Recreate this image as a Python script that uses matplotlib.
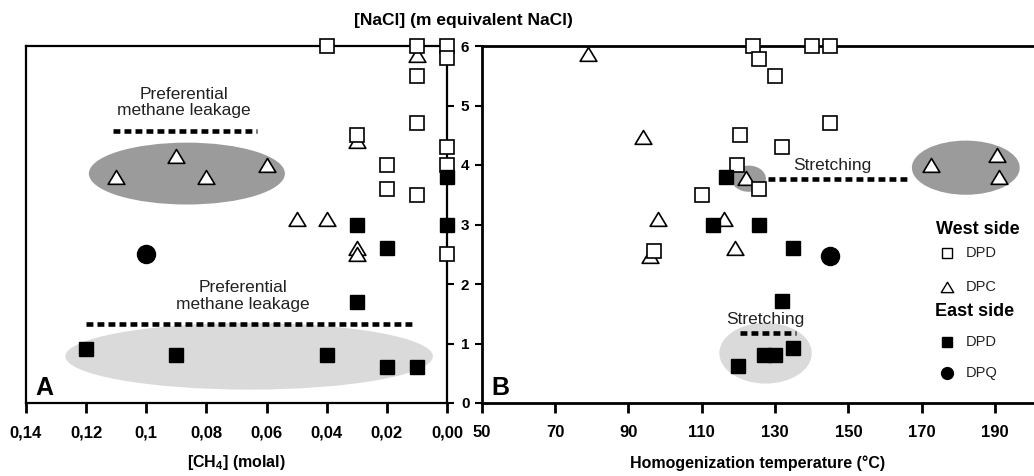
import matplotlib
matplotlib.use('Agg')
import matplotlib.pyplot as plt
from matplotlib.patches import Ellipse
from matplotlib.path import Path

plt.rcParams['font.family'] = ['Liberation Sans', 'DejaVu Sans']
plt.rcParams['mathtext.fontset'] = 'custom'
plt.rcParams['mathtext.rm'] = 'Liberation Sans:bold'
plt.rcParams['mathtext.default'] = 'rm'

# ---------------- Panel A data: [CH4] (molal) vs [NaCl] ----------------
a_west_dpd_x = [0.04, 0.01, 0.00, 0.00, 0.01, 0.01, 0.03, 0.00, 0.02, 0.00, 0.02, 0.01, 0.00]
a_west_dpd_y = [6.0, 6.0, 6.0, 5.8, 5.5, 4.7, 4.5, 4.3, 4.0, 4.0, 3.6, 3.5, 2.5]
a_west_dpc_x = [0.01, 0.03, 0.11, 0.09, 0.08, 0.06, 0.05, 0.04, 0.03, 0.03]
a_west_dpc_y = [5.85, 4.4, 3.8, 4.15, 3.8, 4.0, 3.1, 3.1, 2.6, 2.5]
a_east_dpd_x = [0.00, 0.00, 0.03, 0.02, 0.03, 0.12, 0.09, 0.04, 0.02, 0.01]
a_east_dpd_y = [3.8, 3.0, 3.0, 2.6, 1.7, 0.9, 0.8, 0.8, 0.6, 0.6]
a_east_dpq_x = [0.10]
a_east_dpq_y = [2.5]

# ---------------- Panel B data: Th (°C) vs [NaCl] ----------------
b_west_dpd_x = [124, 125.5, 140, 145, 130, 145, 120.5, 132, 119.5, 125.5, 110, 97]
b_west_dpd_y = [6.0, 5.78, 6.0, 6.0, 5.5, 4.7, 4.5, 4.3, 4.0, 3.6, 3.5, 2.55]
b_west_dpc_x = [79, 94, 98, 96, 116, 119, 122, 172.5, 190.5, 191]
b_west_dpc_y = [5.87, 4.47, 3.1, 2.47, 3.1, 2.6, 3.78, 4.0, 4.17, 3.79]
b_east_dpd_x = [116.5, 113, 125.5, 135, 132, 120, 127, 130, 135]
b_east_dpd_y = [3.8, 3.0, 3.0, 2.6, 1.71, 0.63, 0.81, 0.81, 0.93]
b_east_dpq_x = [145]
b_east_dpq_y = [2.47]

# axes ticks / labels
a_xticks = [0.14, 0.12, 0.10, 0.08, 0.06, 0.04, 0.02, 0.00]
a_xticklabels = ['0,14', '0,12', '0,1', '0,08', '0,06', '0,04', '0,02', '0,00']
b_xticks = [50, 70, 90, 110, 130, 150, 170, 190]
y_ticks = [0, 1, 2, 3, 4, 5, 6]

# annotation shapes: (center_x, center_y, width, height, colour)
a_ellipses = [(0.0865, 3.856, 0.0652, 1.04, '#9b9b9b'),
              (0.0658, 0.785, 0.1222, 1.12, '#dadada')]
b_ellipses = [(122.8, 3.77, 9.4, 0.44, '#9b9b9b'),
              (182.0, 3.955, 29.4, 0.91, '#9b9b9b'),
              (127.4, 0.837, 25.2, 1.02, '#dadada')]
# dotted lines: (x0, x1, y)
a_dots = [(0.1111, 0.0633, 4.57), (0.1202, 0.0111, 1.335)]
b_dots = [(128.2, 166.6, 3.76), (120.5, 135.6, 1.18)]
# texts: (x, y, text)
a_texts = [(0.0874, 5.05, 'Preferential\nmethane leakage'),
           (0.0678, 1.795, 'Preferential\nmethane leakage')]
b_texts = [(145.7, 3.99, 'Stretching'), (127.3, 1.40, 'Stretching')]

W, H = 1034.0, 476.0
fig = plt.figure(figsize=(10.34, 4.76), dpi=100)
axA = fig.add_axes([26 / W, 1 - 403 / H, (447 - 26) / W, (403 - 46) / H])
axB = fig.add_axes([481.7 / W, 1 - 403 / H, (1034 - 481.7) / W, (403 - 46) / H])

tri = Path([(-1, -0.82), (1, -0.82), (0, 0.84), (-1, -0.82)],
           [Path.MOVETO, Path.LINETO, Path.LINETO, Path.CLOSEPOLY])
sq_open = dict(marker='s', ms=9.8, mfc='white', mec='black', mew=1.2, ls='none', clip_on=False)
tri_open = dict(marker=tri, ms=12, mfc='white', mec='black', mew=1.2, ls='none', clip_on=False)
sq_fill = dict(marker='s', ms=10, mfc='black', mec='black', mew=1.0, ls='none', clip_on=False)
circ_fill = dict(marker='o', ms=13, mfc='black', mec='black', mew=1.0, ls='none', clip_on=False)

dot_style = dict(color='black', lw=3.3, ls=(0, (1.5, 0.9)), solid_capstyle='butt',
                 dash_capstyle='butt', zorder=3)
text_style = dict(fontsize=12.5, color='#222222', ha='center', va='center',
                  linespacing=1.15, zorder=3)


def draw(ax, ellipses, dots, texts, wdpd, wdpc, edpd, edpq):
    for cx, cy, w, h, c in ellipses:
        ax.add_patch(Ellipse((cx, cy), w, h, facecolor=c, edgecolor='none', zorder=1))
    for x0, x1, y in dots:
        ax.plot([x0, x1], [y, y], **dot_style)
    for x, y, t in texts:
        ax.text(x, y, t, **text_style)
    ax.plot(*wdpc, zorder=5, **tri_open)
    ax.plot(*wdpd, zorder=6, **sq_open)
    ax.plot(*edpd, zorder=7, **sq_fill)
    ax.plot(*edpq, zorder=7, **circ_fill)


draw(axA, a_ellipses, a_dots, a_texts,
     (a_west_dpd_x, a_west_dpd_y), (a_west_dpc_x, a_west_dpc_y),
     (a_east_dpd_x, a_east_dpd_y), (a_east_dpq_x, a_east_dpq_y))
draw(axB, b_ellipses, b_dots, b_texts,
     (b_west_dpd_x, b_west_dpd_y), (b_west_dpc_x, b_west_dpc_y),
     (b_east_dpd_x, b_east_dpd_y), (b_east_dpq_x, b_east_dpq_y))

tick_font = dict(fontsize=12, fontweight='bold')

# ---- Axis A ----
axA.set_xlim(0.14, 0.0)
axA.set_ylim(0, 6)
axA.set_xticks(a_xticks)
axA.set_xticklabels(a_xticklabels, **tick_font)
axA.set_yticks(y_ticks)
axA.set_yticklabels([str(v) for v in y_ticks], fontsize=11, fontweight='bold')
axA.yaxis.tick_right()
axA.tick_params(axis='y', direction='out', length=5, width=1.5, pad=5,
                left=False, right=True, labelleft=False, labelright=True)
axA.tick_params(axis='x', direction='out', length=7, width=2, pad=9)
for s in axA.spines.values():
    s.set_linewidth(1.6)
axA.set_xlabel('[CH$_4$] (molal)', fontsize=11.5, fontweight='bold')
axA.xaxis.set_label_coords(0.5, (403 - 463) / 357.0)
axA.xaxis.label.set_va('center')
axA.text((35 - 26) / 421.0, (403 - 395) / 357.0, 'A', transform=axA.transAxes,
         fontsize=18, fontweight='bold', ha='left', va='baseline', zorder=8)

# ---- Axis B ----
axB.set_xlim(50, 200.6)
axB.set_ylim(0, 6)
axB.set_xticks(b_xticks)
axB.set_xticklabels([str(v) for v in b_xticks], **tick_font)
axB.set_yticks(y_ticks)
axB.tick_params(axis='y', direction='out', length=5, width=1.5, labelleft=False)
axB.tick_params(axis='x', direction='out', length=7, width=2, pad=9)
axB.spines['right'].set_visible(False)
for k in ['left', 'top', 'bottom']:
    axB.spines[k].set_linewidth(2.0)
axB.set_xlabel('Homogenization temperature (°C)', fontsize=11.5, fontweight='bold')
axB.xaxis.set_label_coords(0.5, (403 - 463) / 357.0)
axB.xaxis.label.set_va('center')
axB.text((491 - 481.7) / 552.3, (403 - 395) / 357.0, 'B', transform=axB.transAxes,
         fontsize=18, fontweight='bold', ha='left', va='baseline', zorder=8)

# ---- Manual legend in B (axes fraction) ----
bx = axB.transAxes
axB.text(0.898, 0.485, 'West side', transform=bx, fontsize=13, fontweight='bold',
         ha='center', va='center')
axB.text(0.893, 0.255, 'East side', transform=bx, fontsize=13, fontweight='bold',
         ha='center', va='center')
leg_rows = [(0.420, 'DPD', dict(marker='s', ms=7, mfc='white', mec='black', mew=1.0)),
            (0.325, 'DPC', dict(marker=tri, ms=9, mfc='white', mec='black', mew=1.0)),
            (0.171, 'DPD', dict(marker='s', ms=7, mfc='black', mec='black', mew=1.0)),
            (0.084, 'DPQ', dict(marker='o', ms=8.5, mfc='black', mec='black', mew=1.0))]
for fy, lab, mk in leg_rows:
    axB.plot([0.8425], [fy], transform=bx, ls='none', clip_on=False, zorder=8, **mk)
    axB.text(0.877, fy, lab, transform=bx, fontsize=10.5, ha='left', va='center',
             color='#222222')

fig.text(463 / W, 1 - 20 / H, '[NaCl] (m equivalent NaCl)', fontsize=12.5,
         fontweight='bold', ha='center', va='center')

fig.savefig('out.png', dpi=100)
